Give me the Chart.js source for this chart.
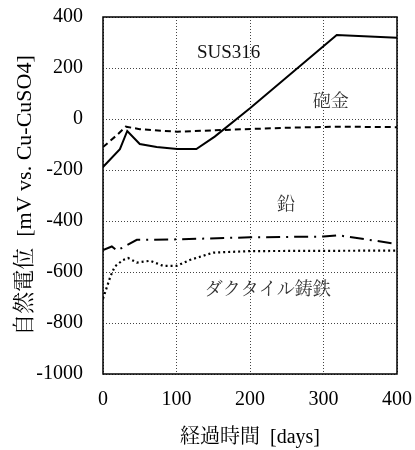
<!DOCTYPE html>
<html>
<head>
<meta charset="utf-8">
<script src="https://cdn.jsdelivr.net/npm/chart.js@4"></script>
<style>
  html, body { margin: 0; padding: 0; background: #fff; }
  #wrap { width: 415px; height: 450px; position: relative; }
</style>
</head>
<body>
<div id="wrap"><canvas id="chart"></canvas></div>
<script>
  // 経過時間 [days]
  const susDays = [0, 23, 33, 50, 73, 101, 127, 152, 200, 318, 400];
  const susMv = [-188, -118, -47, -98, -110, -118, -118, -69, 42, 329, 319];

  const houkinDays = [0, 19, 31, 50, 101, 163, 254, 318, 400];
  const houkinMv = [-110, -63, -30, -40, -50, -43, -34, -30, -32];

  const namariDays = [0, 12, 19, 46, 100, 200, 300, 320, 400];
  const namariMv = [-514, -500, -516, -474, -472, -464, -461, -456, -490];

  const ductileDays = [0, 10, 16, 27, 34, 46, 64, 82, 100, 118, 150, 200, 400];
  const ductileMv = [-705, -618, -579, -553, -545, -563, -556, -576, -576, -553, -524, -518, -516];

  const xTicks = [0, 100, 200, 300, 400];
  const yTicks = [400, 200, 0, -200, -400, -600, -800, -1000];

  // 図中ラベル（データ座標）
  const labelText = ["SUS316", "砲金", "鉛", "ダクタイル鋳鉄"];
  const labelDays = [171, 310, 249, 224];
  const labelMv = [258, 67, -337, -670];

  const FONT = "'Liberation Serif', 'Noto Serif CJK JP', serif";

  const pts = (xs, ys) => xs.map((x, i) => ({ x, y: ys[i] }));

  const frameAndLabels = {
    id: "frameAndLabels",
    afterDatasetsDraw(chart) {
      const { ctx, chartArea: a, scales } = chart;
      ctx.save();
      ctx.strokeStyle = "#000";
      ctx.lineWidth = 1.5;
      ctx.strokeRect(a.left, a.top, a.right - a.left, a.bottom - a.top);
      ctx.textAlign = "center";
      ctx.textBaseline = "middle";
      labelText.forEach((t, i) => {
        const px = scales.x.getPixelForValue(labelDays[i]);
        const py = scales.y.getPixelForValue(labelMv[i]);
        const latin = /^[A-Za-z0-9]+$/.test(t);
        ctx.font = (latin ? "19px " : "18px ") + FONT;
        ctx.fillStyle = latin ? "#111" : "#333";
        ctx.fillText(t, px, py);
      });
      ctx.restore();
    },
  };

  const line = (data, dash, width) => ({
    data,
    borderColor: "#000",
    borderWidth: width,
    borderDash: dash,
    pointRadius: 0,
    tension: 0,
    fill: false,
  });

  new Chart(document.getElementById("chart"), {
    type: "line",
    data: {
      datasets: [
        line(pts(susDays, susMv), [], 2),
        line(pts(houkinDays, houkinMv), [6, 4], 2),
        line(pts(namariDays, namariMv), [14, 6, 2, 6], 2),
        line(pts(ductileDays, ductileMv), [2, 3], 2.2),
      ],
    },
    options: {
      responsive: true,
      maintainAspectRatio: false,
      animation: false,
      layout: { padding: { top: 17, right: 18, left: 0, bottom: 0 } },
      plugins: { legend: { display: false }, tooltip: { enabled: false } },
      scales: {
        x: {
          type: "linear",
          min: 0,
          max: 400,
          afterBuildTicks: (s) => { s.ticks = xTicks.map((v) => ({ value: v })); },
          afterFit: (s) => {
            s.height = 76;
            s.paddingLeft = 0;
            s.paddingRight = 0;
          },
          grid: { color: "#444", lineWidth: 1, drawTicks: false },
          border: { display: false, dash: [1, 2] },
          ticks: {
            color: "#000",
            font: { family: FONT, size: 20 },
            padding: 14,
            maxRotation: 0,
            callback: (v) => String(v),
          },
          title: {
            display: true,
            text: "経過時間  [days]",
            color: "#000",
            font: { family: FONT, size: 20 },
            padding: { top: 0, bottom: 0 },
          },
        },
        y: {
          min: -1000,
          max: 400,
          afterBuildTicks: (s) => { s.ticks = yTicks.map((v) => ({ value: v })); },
          afterFit: (s) => {
            s.width = 103;
            s.paddingTop = 0;
            s.paddingBottom = 0;
          },
          grid: { color: "#444", lineWidth: 1, drawTicks: false },
          border: { display: false, dash: [1, 2] },
          ticks: {
            color: "#000",
            font: { family: FONT, size: 20 },
            padding: 20,
            callback: (v) => String(v),
          },
          title: {
            display: true,
            text: "自然電位  [mV vs. Cu-CuSO4]",
            color: "#000",
            font: { family: FONT, size: 22 },
            padding: { top: 12, bottom: 0 },
          },
        },
      },
    },
    plugins: [frameAndLabels],
  });
</script>
</body>
</html>
